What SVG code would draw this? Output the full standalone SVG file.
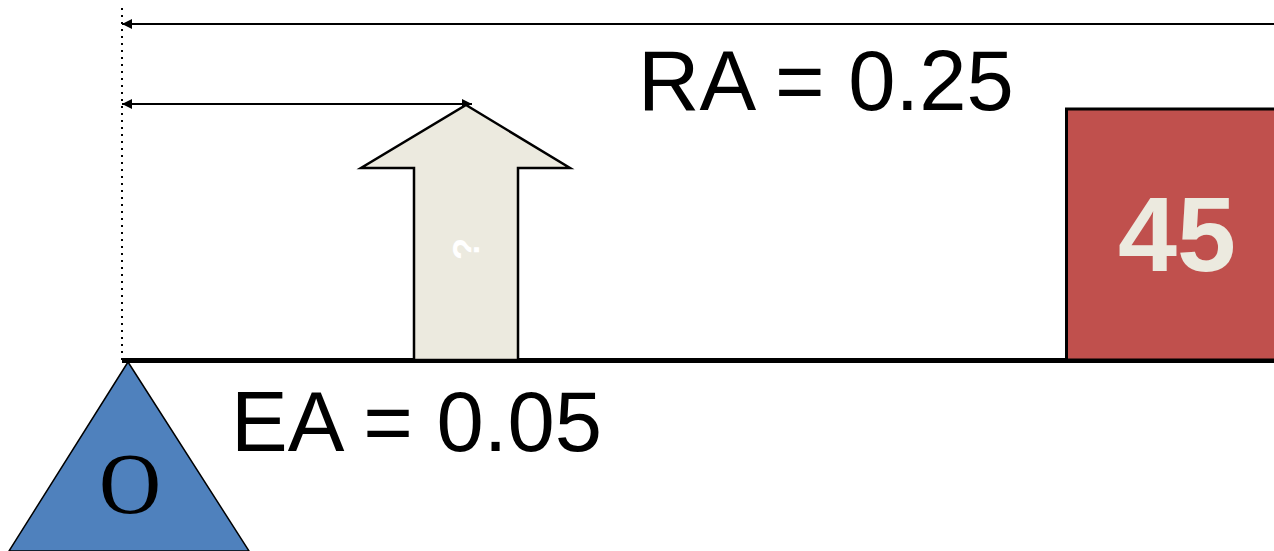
<svg xmlns="http://www.w3.org/2000/svg" width="1274" height="551" viewBox="0 0 1274 551">
<style>
.lbl{font-family:"Liberation Sans",Arial,sans-serif;font-size:85px;fill:#000}
.dim{stroke:#000;stroke-width:2;fill:none}
</style>
<defs>
<marker id="ah" viewBox="0 0 10 10" refX="10" refY="5" markerWidth="12" markerHeight="10" markerUnits="userSpaceOnUse" orient="auto-start-reverse">
<path d="M0,0 L10,5 L0,10 z" fill="#000"/>
</marker>
</defs>
<rect width="1274" height="551" fill="#fff"/>
<g id="connectors">
<line x1="122" y1="8" x2="122" y2="362" stroke="#000" stroke-width="2" stroke-dasharray="2,5"/>
<line class="dim" x1="1274" y1="24" x2="122" y2="24" marker-end="url(#ah)"/>
<line class="dim" x1="122" y1="104" x2="472" y2="104" marker-start="url(#ah)" marker-end="url(#ah)"/>
</g>
<g id="beam">
<line x1="122" y1="360.5" x2="1274" y2="360.5" stroke="#000" stroke-width="5"/>
</g>
<g id="force">
<polygon points="466,105 570,168 518,168 518,360 414,360 414,168 361,168" fill="#ECEADF" stroke="#000" stroke-width="2.5"/>
<text transform="translate(466,249) rotate(-90)" text-anchor="middle" dominant-baseline="central" font-family="Liberation Sans,Arial,sans-serif" font-weight="bold" font-size="36" fill="#fff">?</text>
</g>
<g id="load">
<rect x="1066.5" y="109" width="215" height="251" fill="#C0504D" stroke="#000" stroke-width="3"/>
<text x="1177" y="271" text-anchor="middle" font-family="Liberation Sans,Arial,sans-serif" font-weight="bold" font-size="106" fill="#ECEADF">45</text>
</g>
<g id="fulcrum">
<polygon points="128,362 249,551 9,551" fill="#4F81BD" stroke="#000" stroke-width="1.5"/>
<text x="130" y="513" text-anchor="middle" font-family="Liberation Serif,Times New Roman,serif" font-size="86" fill="#000">O</text>
</g>
<g id="labels">
<text class="lbl" x="638" y="110">RA = 0.25</text>
<text class="lbl" x="231" y="451">EA = 0.05</text>
</g>
</svg>
